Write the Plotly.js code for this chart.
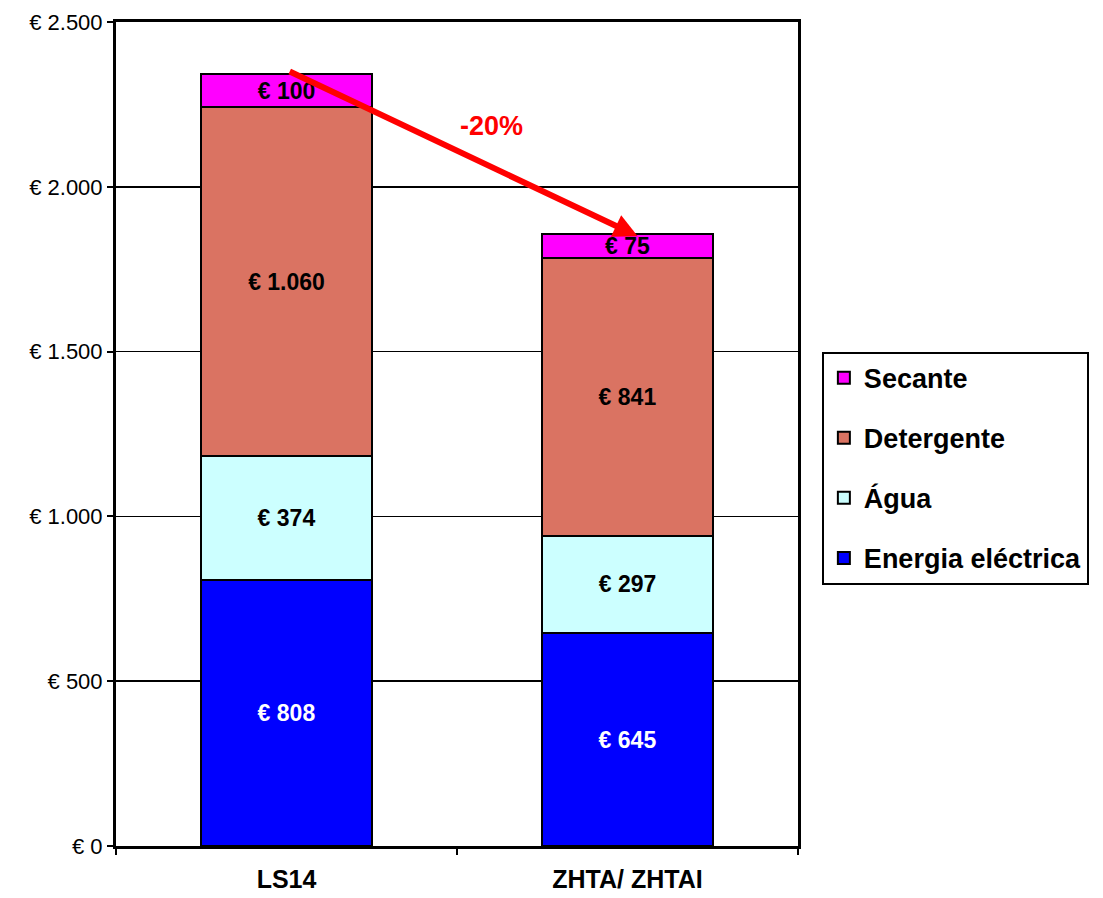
<!DOCTYPE html>
<html>
<head>
<meta charset="utf-8">
<script src="https://cdn.plot.ly/plotly-3.0.1.min.js"></script>
<style>html,body{margin:0;padding:0;background:#fff;}#chart{width:1103px;height:898px;}</style>
</head>
<body>
<div id="chart"></div>
<script>
var categories = ['LS14', 'ZHTA/ ZHTAI'];
var seriesNames = ['Energia eléctrica', 'Água', 'Detergente', 'Secante'];
var energia = [808, 645];
var agua = [374, 297];
var detergente = [1060, 841];
var secante = [100, 75];
var seriesColors = ['#0000FF', '#CCFFFF', '#DA7362', '#FF00FF'];
var labelColors = ['#FFFFFF', '#000000', '#000000', '#000000'];
var yTicks = [0, 500, 1000, 1500, 2000, 2500];
var yTickText = ['€ 0', '€ 500', '€ 1.000', '€ 1.500', '€ 2.000', '€ 2.500'];
var changeLabel = '-20%';

var seriesValues = [energia, agua, detergente, secante];
var traces = seriesValues.map(function (vals, i) {
  return {
    type: 'bar',
    name: seriesNames[i],
    x: categories,
    y: vals,
    legendgroup: 'g' + i,
    legendrank: 100 - i,
    marker: { color: seriesColors[i], line: { color: '#000', width: 2 } },
    texttemplate: '€ %{y:,d}',
    textposition: 'inside',
    insidetextanchor: 'middle',
    textangle: 0,
    textfont: { family: 'Liberation Sans, Arial, sans-serif', size: 23, color: labelColors[i], weight: 'bold' },
    hoverinfo: 'skip'
  };
});

var totals = categories.map(function (c, j) {
  return energia[j] + agua[j] + detergente[j] + secante[j];
});

var layout = {
  width: 1103, height: 898,
  margin: { l: 116, r: 305, t: 22, b: 52 },
  paper_bgcolor: '#fff', plot_bgcolor: '#fff',
  separators: ',.',
  barmode: 'stack',
  bargap: 0.5,
  uniformtext: { mode: 'show', minsize: 23 },
  showlegend: true,
  font: { family: 'Liberation Sans, Arial, sans-serif', color: '#000' },
  xaxis: {
    type: 'category',
    showline: true, linecolor: '#000', linewidth: 3, mirror: true,
    ticks: 'outside', tickson: 'boundaries', ticklen: 6, tickwidth: 2, tickcolor: '#000',
    ticklabelstandoff: 9,
    tickfont: { size: 25, weight: 'bold' },
    showgrid: false, zeroline: false, fixedrange: true
  },
  yaxis: {
    range: [0, 2500],
    tickmode: 'array',
    tickvals: yTicks,
    ticktext: yTickText,
    showline: true, linecolor: '#000', linewidth: 3, mirror: true,
    ticks: 'outside', ticklen: 6, tickwidth: 2, tickcolor: '#000',
    tickfont: { size: 22 },
    showgrid: true, gridcolor: '#000', gridwidth: 1.5,
    zeroline: false, fixedrange: true
  },
  legend: {
    x: 1.035, xanchor: 'left', y: 0.6, yanchor: 'top',
    bordercolor: '#000', borderwidth: 2, bgcolor: '#fff',
    traceorder: 'grouped', tracegroupgap: 22,
    font: { size: 27, weight: 'bold' },
    itemclick: false, itemdoubleclick: false
  },
  annotations: [
    {
      x: 1.03, y: totals[1] - 8, xref: 'x', yref: 'y',
      ax: 0.005, ay: totals[0] + 10, axref: 'x', ayref: 'y',
      showarrow: true, arrowhead: 2, arrowsize: 0.8, arrowwidth: 6, arrowcolor: '#FF0000',
      text: ''
    },
    {
      x: 0.6, y: 2185, xref: 'x', yref: 'y',
      text: changeLabel, showarrow: false,
      font: { size: 27, color: '#FF0000', weight: 'bold' }
    }
  ]
};

Plotly.newPlot('chart', traces, layout, { displayModeBar: false, staticPlot: true });
</script>
</body>
</html>
